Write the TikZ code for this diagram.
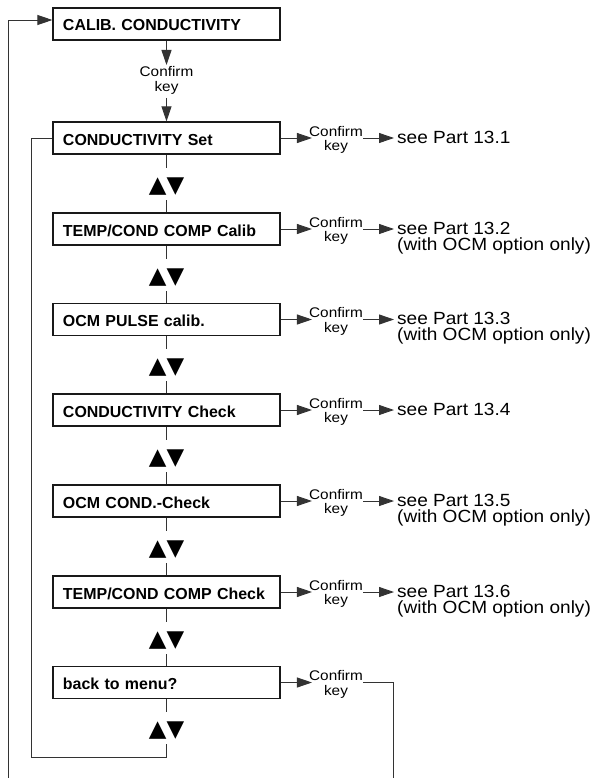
\documentclass[tikz,border=0pt]{standalone}
\usepackage{fontspec}
\setmainfont{Liberation Sans}
\newfontfamily\keyfont[FakeStretch=1.1]{Liberation Sans}
\newfontfamily\seefont[FakeStretch=1.08]{Liberation Sans}
\newfontfamily\arrowfont{DejaVu Sans}
\usepackage{tikz}
\usetikzlibrary{arrows.meta}
\lineskiplimit=-20pt

\tikzset{
    menubox/.style={draw=black!90, line width=1.2bp, minimum height=32bp, text width=207bp,
        inner xsep=10bp, inner ysep=0pt, align=left, text height=14bp, text depth=0bp,
        font=\bfseries\fontsize{16}{19}\selectfont},
    keytext/.style={font=\keyfont\fontsize{14}{15}\selectfont,
        align=center, inner sep=0pt, anchor=north},
    seetext/.style={font=\seefont\fontsize{17.7}{16.3}\selectfont,
        align=left, inner sep=0pt, anchor=north west},
    updown/.style={font=\arrowfont\fontsize{23}{23}\selectfont, inner sep=0pt, anchor=base},
    wire/.style={draw=black!80, line width=0.9bp},
    arr/.style={wire, -{Triangle[length=15bp,width=10bp]}},
}

\begin{document}
\begin{tikzpicture}[x=1bp, y=-1bp]
        \useasboundingbox (0,0) rectangle (595,778);

        \node[menubox] (calib) at (166.5,24) {CALIB. CONDUCTIVITY};
        \node[keytext] (ck1) at (166.5,66.5) {Confirm\\key};

        \node[menubox] (condset) at (166.5,138) {CONDUCTIVITY Set};
        \node[menubox] (tccalib) at (166.5,229) {TEMP/COND COMP Calib};
        \node[menubox] (ocmpulse) at (166.5,319.5) {OCM PULSE calib.};
        \node[menubox] (condcheck) at (166.5,410) {CONDUCTIVITY Check};
        \node[menubox] (ocmcheck) at (166.5,501) {OCM COND.-Check};
        \node[menubox] (tccheck) at (166.5,592) {TEMP/COND COMP Check};
        \node[menubox] (backmenu) at (166.5,682.5) {back to menu?};

        \node[updown] (ud2) at (166.5,192) {▲▼};
        \node[updown] (ud3) at (166.5,283) {▲▼};
        \node[updown] (ud4) at (166.5,373.5) {▲▼};
        \node[updown] (ud5) at (166.5,464) {▲▼};
        \node[updown] (ud6) at (166.5,555) {▲▼};
        \node[updown] (ud7) at (166.5,646) {▲▼};
        \node[updown] (ud8) at (166.5,736.5) {▲▼};

        \node[keytext] (ck2) at (336,125.7) {Confirm\\key};
        \node[keytext] (ck3) at (336,216.7) {Confirm\\key};
        \node[keytext] (ck4) at (336,307.2) {Confirm\\key};
        \node[keytext] (ck5) at (336,397.7) {Confirm\\key};
        \node[keytext] (ck6) at (336,488.7) {Confirm\\key};
        \node[keytext] (ck7) at (336,579.7) {Confirm\\key};
        \node[keytext] (ck8) at (336,670.2) {Confirm\\key};

        \node[seetext] (see2) at (397,130.5) {see Part 13.1};
        \node[seetext] (see3) at (397,221.5) {see Part 13.2\\(with OCM option only)};
        \node[seetext] (see4) at (397,312) {see Part 13.3\\(with OCM option only)};
        \node[seetext] (see5) at (397,402.5) {see Part 13.4};
        \node[seetext] (see6) at (397,493.5) {see Part 13.5\\(with OCM option only)};
        \node[seetext] (see7) at (397,584.5) {see Part 13.6\\(with OCM option only)};

        \coordinate (outL) at (8,778);
        \coordinate (outR) at (393,778);
        \coordinate (loopend) at (166.5,744);

        % into the calibration menu
        \draw[arr, shorten >=1.5bp] (calib) -- (ck1);
        \draw[arr, shorten <=3bp] (ck1) -- (condset);
        \draw[arr] (outL) |- ([yshift=4bp]calib.west);

        % up/down between entries
        \draw[wire] (condset.south) -- ++(0,13);
        \draw[wire] (tccalib.north) -- ++(0,-12);
        \draw[wire] (tccalib.south) -- ++(0,13);
        \draw[wire] (ocmpulse.north) -- ++(0,-12);
        \draw[wire] (ocmpulse.south) -- ++(0,13);
        \draw[wire] (condcheck.north) -- ++(0,-12);
        \draw[wire] (condcheck.south) -- ++(0,13);
        \draw[wire] (ocmcheck.north) -- ++(0,-12);
        \draw[wire] (ocmcheck.south) -- ++(0,13);
        \draw[wire] (tccheck.north) -- ++(0,-12);
        \draw[wire] (tccheck.south) -- ++(0,13);
        \draw[wire] (backmenu.north) -- ++(0,-12);
        \draw[wire] (backmenu.south) -- ++(0,13);
        \draw[wire] (condset.west) -| (31,757.5) -| (loopend);

        % confirm key to the parts
        \draw[arr, shorten >=-3bp] (condset) -- (condset -| ck2.west);
        \draw[arr, shorten >=3bp] (ck2.east |- condset) -- (see2.west |- condset);
        \draw[arr, shorten >=-3bp] (tccalib) -- (tccalib -| ck3.west);
        \draw[arr, shorten >=3bp] (ck3.east |- tccalib) -- (see3.west |- tccalib);
        \draw[arr, shorten >=-3bp] (ocmpulse) -- (ocmpulse -| ck4.west);
        \draw[arr, shorten >=3bp] (ck4.east |- ocmpulse) -- (see4.west |- ocmpulse);
        \draw[arr, shorten >=-3bp] (condcheck) -- (condcheck -| ck5.west);
        \draw[arr, shorten >=3bp] (ck5.east |- condcheck) -- (see5.west |- condcheck);
        \draw[arr, shorten >=-3bp] (ocmcheck) -- (ocmcheck -| ck6.west);
        \draw[arr, shorten >=3bp] (ck6.east |- ocmcheck) -- (see6.west |- ocmcheck);
        \draw[arr, shorten >=-3bp] (tccheck) -- (tccheck -| ck7.west);
        \draw[arr, shorten >=3bp] (ck7.east |- tccheck) -- (see7.west |- tccheck);
        \draw[arr, shorten >=-3bp] (backmenu) -- (backmenu -| ck8.west);
        \draw[wire] (ck8.east |- backmenu) -| (outR);
\end{tikzpicture}
\end{document}
